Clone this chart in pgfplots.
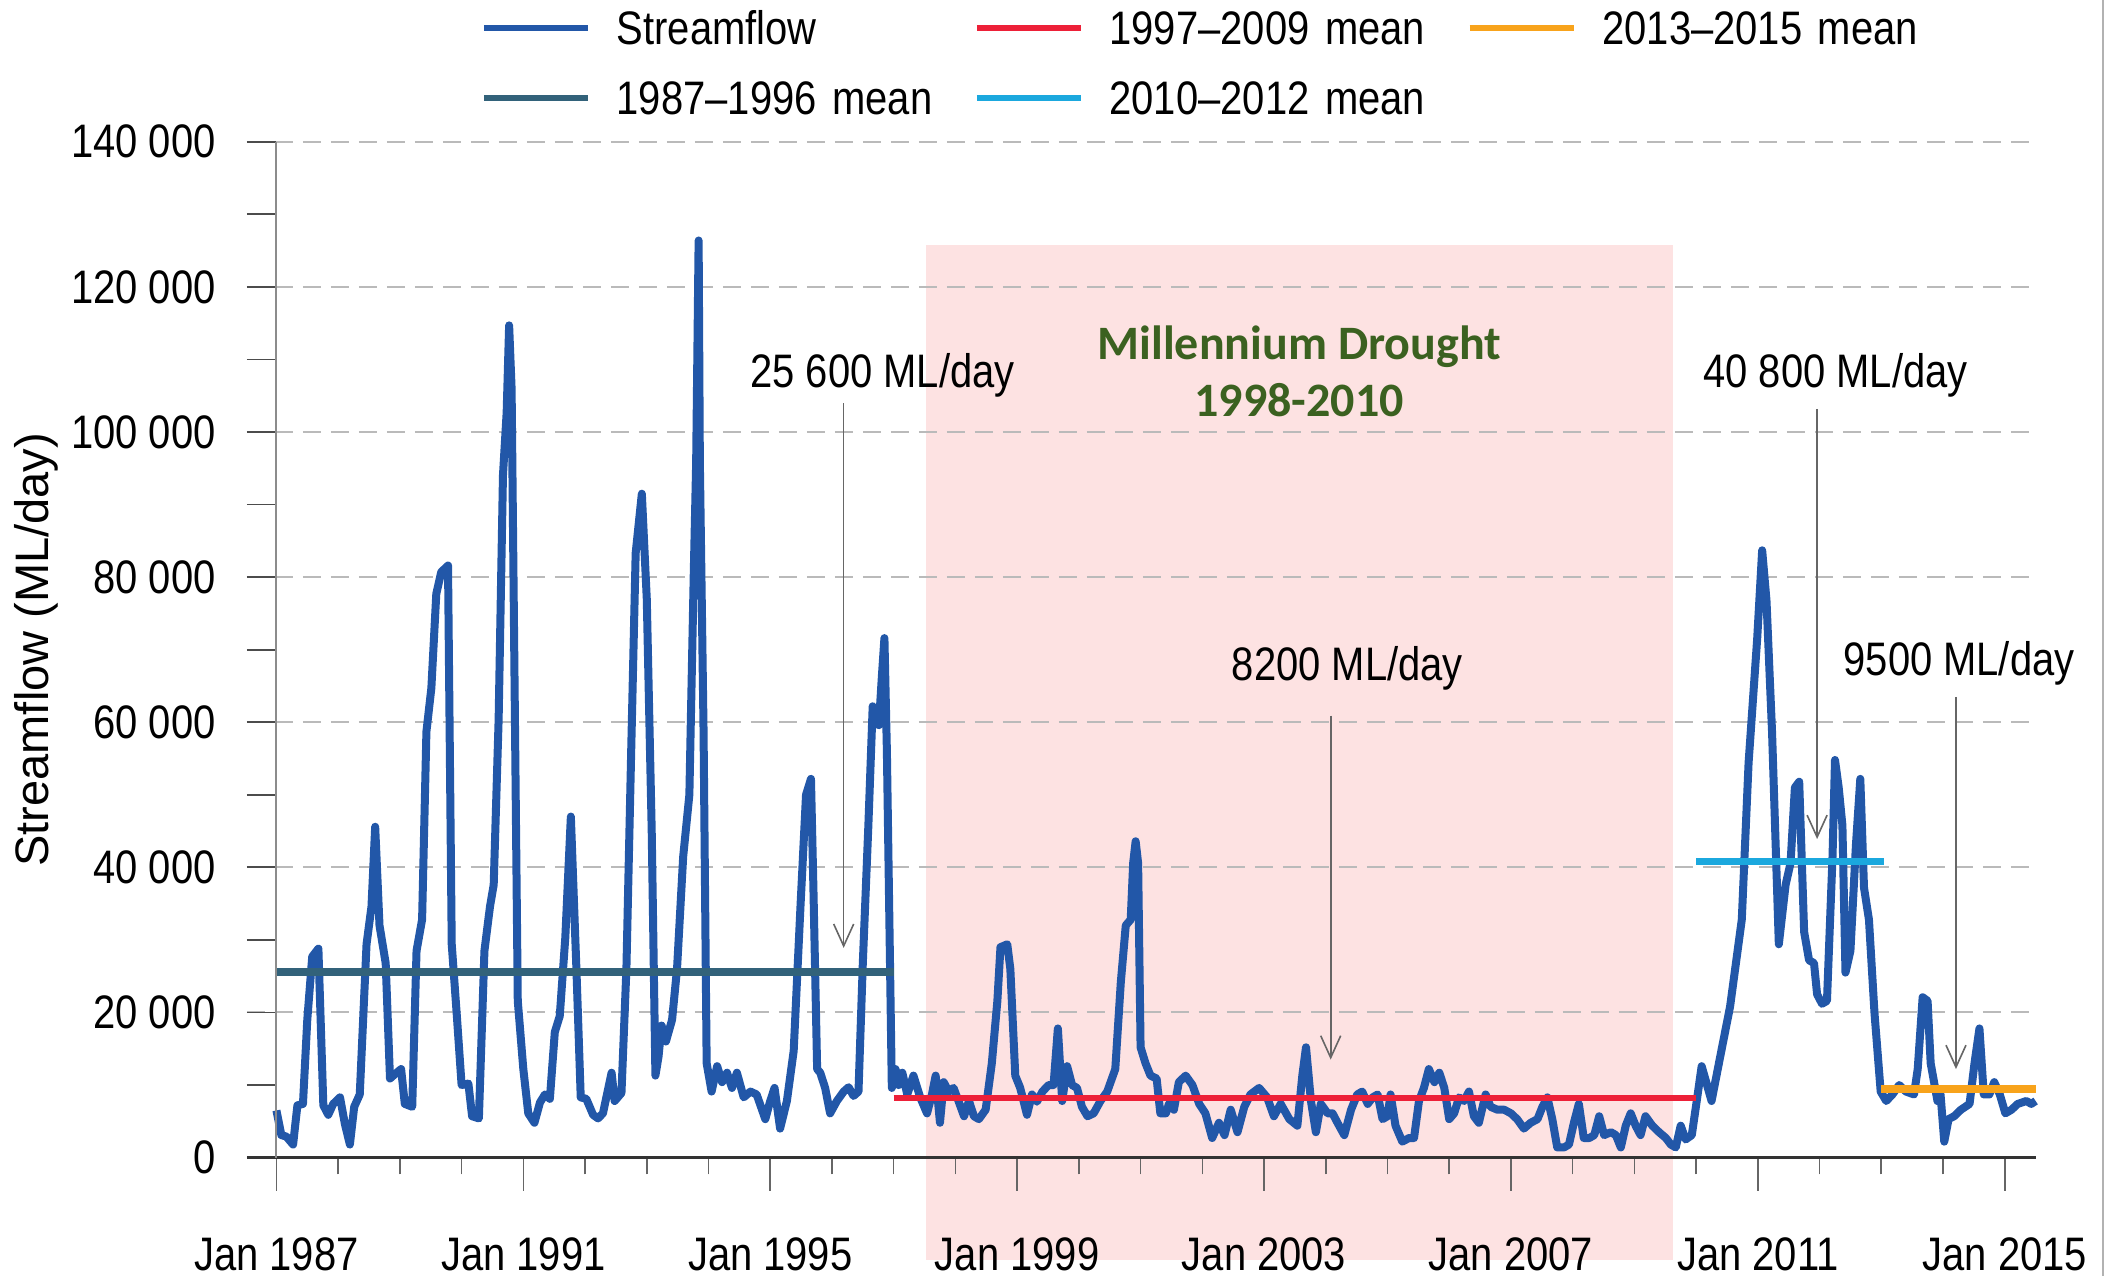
\documentclass[border=0pt]{standalone}
\usepackage{pgfplots}
\pgfplotsset{compat=1.18}
\usepackage{pgfplotstable}
\usepackage{fontspec}
\usetikzlibrary{arrows.meta}
\setmainfont{Liberation Sans}[FakeStretch=0.85]
\newfontfamily\ylabfont{Liberation Sans}
\newfontfamily\carlito{Carlito}
\definecolor{streamblue}{HTML}{2257A8}
\definecolor{tealmean}{HTML}{32627A}
\definecolor{redmean}{HTML}{ED2038}
\definecolor{cyanmean}{HTML}{1BA8DE}
\definecolor{orangemean}{HTML}{F8A31B}
\definecolor{droughtpink}{HTML}{FDE2E2}
\definecolor{droughtgreen}{HTML}{3B6120}

\pgfplotstableread{
t q
1987.00 6500
1987.08 3100
1987.16 2900
1987.27 1800
1987.34 7200
1987.43 7400
1987.50 19000
1987.58 27700
1987.68 28800
1987.76 7200
1987.84 5900
1987.92 7400
1988.03 8300
1988.11 4600
1988.19 1800
1988.26 7000
1988.35 8700
1988.46 29400
1988.54 34600
1988.60 45600
1988.67 32000
1988.77 26800
1988.84 10900
1988.92 11500
1989.02 12200
1989.08 7400
1989.20 7000
1989.27 28500
1989.36 32800
1989.43 58700
1989.51 64700
1989.59 77700
1989.67 80700
1989.78 81600
1989.84 29400
1989.92 19900
1990.00 10000
1990.11 10200
1990.17 5700
1990.28 5400
1990.37 28500
1990.46 34600
1990.52 37600
1990.60 60400
1990.67 94000
1990.73 102700
1990.77 114700
1990.81 106000
1990.91 21600
1991.00 12200
1991.08 6100
1991.18 4800
1991.27 7600
1991.35 8700
1991.43 8100
1991.51 17300
1991.59 19500
1991.68 30300
1991.77 47000
1991.86 26000
1991.93 8300
1992.02 8100
1992.13 5900
1992.21 5400
1992.29 6100
1992.43 11700
1992.48 7800
1992.59 8900
1992.67 26000
1992.75 57000
1992.82 83300
1992.92 91500
1993.00 77000
1993.08 45000
1993.14 11300
1993.19 13900
1993.24 18200
1993.31 16000
1993.41 19000
1993.49 26000
1993.59 41500
1993.69 50000
1993.76 80000
1993.80 95800
1993.84 126400
1993.86 95800
1993.92 58700
1993.97 13000
1994.05 9100
1994.14 12600
1994.22 10400
1994.30 11700
1994.38 9600
1994.46 11700
1994.57 8300
1994.68 9100
1994.78 8700
1994.92 5300
1995.00 7800
1995.07 9600
1995.16 4000
1995.27 7800
1995.38 14700
1995.49 34600
1995.58 50000
1995.66 52200
1995.70 37000
1995.76 12200
1995.81 11700
1995.89 9600
1995.97 6100
1996.08 7800
1996.19 9100
1996.27 9700
1996.35 8500
1996.43 9100
1996.50 26800
1996.59 45800
1996.66 62200
1996.70 61300
1996.76 59600
1996.81 66500
1996.85 71600
1996.89 56000
1996.97 9600
1997.03 12200
1997.08 10000
1997.14 11700
1997.22 8700
1997.32 11300
1997.43 8300
1997.54 6100
1997.62 8700
1997.68 11300
1997.75 4800
1997.81 10400
1997.89 9100
1997.97 9600
1998.05 7800
1998.14 5700
1998.22 7800
1998.30 5700
1998.38 5300
1998.49 6600
1998.59 13000
1998.68 21600
1998.73 29000
1998.84 29400
1998.89 26000
1998.97 11300
1999.05 9600
1999.16 5900
1999.24 8700
1999.32 7700
1999.41 9100
1999.51 10000
1999.59 10000
1999.66 17800
1999.73 7800
1999.81 12600
1999.89 10000
1999.97 9600
2000.05 7000
2000.14 5700
2000.24 6100
2000.35 7800
2000.46 9100
2000.59 12200
2000.68 24200
2000.76 32000
2000.84 32800
2000.88 40600
2000.92 43600
2000.96 40600
2001.00 15200
2001.08 13000
2001.16 11300
2001.26 10900
2001.32 6100
2001.41 6100
2001.46 7400
2001.54 6600
2001.62 10400
2001.73 11300
2001.84 10000
2001.95 7400
2002.05 6100
2002.16 2700
2002.27 4800
2002.36 3100
2002.46 6600
2002.57 3500
2002.68 7000
2002.78 8700
2002.92 9600
2003.05 8300
2003.16 5700
2003.27 7400
2003.41 5300
2003.54 4400
2003.62 11300
2003.68 15200
2003.76 7800
2003.84 3500
2003.92 7400
2004.03 6100
2004.11 6100
2004.19 4800
2004.30 3100
2004.41 6600
2004.51 8700
2004.59 9100
2004.68 7400
2004.76 8300
2004.84 8700
2004.92 5300
2005.00 5700
2005.05 8700
2005.13 4400
2005.24 2200
2005.35 2700
2005.43 2700
2005.51 7800
2005.59 9600
2005.67 12200
2005.76 10400
2005.84 11700
2005.92 9600
2006.00 5300
2006.08 6100
2006.16 8300
2006.24 7800
2006.32 9100
2006.40 5700
2006.48 4800
2006.59 8700
2006.67 7000
2006.78 6600
2006.89 6600
2007.00 6100
2007.10 5300
2007.21 4000
2007.32 4800
2007.43 5300
2007.51 7000
2007.59 8300
2007.67 5300
2007.75 1400
2007.86 1400
2007.94 1800
2008.02 4800
2008.10 7400
2008.18 2700
2008.27 2700
2008.35 3100
2008.43 5700
2008.51 3100
2008.62 3500
2008.70 3100
2008.78 1400
2008.86 4400
2008.94 6100
2009.02 4400
2009.10 3100
2009.18 5700
2009.29 4400
2009.40 3500
2009.51 2700
2009.59 1800
2009.67 1400
2009.75 4400
2009.83 2500
2009.93 3100
2010.01 7800
2010.09 12600
2010.25 7800
2010.39 13900
2010.55 20800
2010.74 32800
2010.85 54400
2010.99 71600
2011.07 83700
2011.14 76800
2011.23 58700
2011.34 29400
2011.45 37600
2011.53 40600
2011.60 51000
2011.67 51800
2011.75 31100
2011.83 27200
2011.91 26800
2011.96 22500
2012.04 21200
2012.12 21600
2012.21 41500
2012.25 54800
2012.31 51000
2012.37 45800
2012.42 25500
2012.50 28500
2012.59 43200
2012.66 52200
2012.72 37200
2012.80 32800
2012.89 19900
2012.99 9100
2013.08 7800
2013.18 8700
2013.29 10000
2013.40 9100
2013.53 8700
2013.59 12200
2013.67 22100
2013.75 21600
2013.80 13000
2013.91 7800
2013.96 8700
2014.02 2200
2014.09 5300
2014.18 5700
2014.29 6600
2014.43 7400
2014.51 13000
2014.59 17800
2014.66 8700
2014.75 8700
2014.83 10400
2014.92 8700
2015.01 6100
2015.11 6600
2015.21 7400
2015.35 7800
2015.43 7400
2015.50 7800
}\flowdata

\begin{document}
\begin{tikzpicture}[font=\fontsize{11.75}{14}\selectfont]
\begin{axis}[
  set layers,
  scale only axis,
  width=447.2pt, height=253.95pt,
  xmin=1986.52, xmax=2015.5,
  ymin=0, ymax=140000,
  clip=false,
  axis x line=bottom, axis y line=left,
  x axis line style={-, draw=black!80, line width=0.6pt},
  y axis line style={draw=none},
  xtick={1987,1991,1995,1999,2003,2007,2011,2015},
  xticklabels={Jan 1987,Jan 1991,Jan 1995,Jan 1999,Jan 2003,Jan 2007,Jan 2011,Jan 2015},
  minor xtick={1988,1989,1990,1992,1993,1994,1996,1997,1998,2000,2001,2002,2004,2005,2006,2008,2009,2010,2012,2013,2014},
  xtick align=outside,
  xtick style={/pgfplots/major tick length=8.3pt, /pgfplots/minor tick length=4.2pt, draw=black!60, line width=0.4pt},
  ytick={0,20000,...,140000},
  yticklabels={0,20 000,40 000,60 000,80 000,100 000,120 000,140 000},
  minor ytick={10000,30000,...,130000},
  ytick align=inside,
  ytick style={/pgfplots/major tick length=7.3pt, /pgfplots/minor tick length=7.3pt, draw=black!70, line width=0.45pt},
  ymajorgrids,
  major grid style={draw=black!27, dash pattern=on 4.5pt off 2.5pt, line width=0.5pt},
  scaled y ticks=false,
  xticklabel style={anchor=base, yshift=-23.9pt, inner sep=0pt},
  yticklabel style={anchor=east, xshift=-7.6pt, inner sep=0pt},
  ylabel={Streamflow (ML/day)},
  every axis y label/.style={at={(rel axis cs:-0.1179,0.5)}, rotate=90, anchor=center, font=\ylabfont\fontsize{11.75}{14}\selectfont},
  legend columns=3,
  legend cell align=left,
  legend image code/.code={\draw[#1, line width=1.6pt] (0pt,0pt) -- (26pt,0pt);},
  legend style={at={(rel axis cs:0.1308,1.1286)}, anchor=north west, draw=none, fill=none,
    inner sep=0pt, outer sep=0pt, row sep=9.1pt,
    nodes={inner sep=0pt, text height=8.4pt, text depth=0pt, text width=84.3pt, align=left},
    /tikz/every odd column/.append style={column sep=6.4pt},
    /tikz/every even column/.append style={column sep=4.9pt}},
]
% Millennium Drought shading
\addplot[draw=none, fill=droughtpink, on layer=axis background, forget plot]
  coordinates {(1997.52,-14100) (2009.62,-14100) (2009.62,125800) (1997.52,125800)} -- cycle;

\addplot[streamblue, line width=2pt, line join=round] table[x=t, y=q] {\flowdata};
\addlegendentry{Streamflow}
\addplot[redmean, line width=1.6pt] coordinates {(1997.0,8200) (2010.0,8200)};
\addlegendentry{1997--2009 mean}
\addplot[orangemean, line width=2pt] coordinates {(2013.0,9500) (2015.5,9500)};
\addlegendentry{2013--2015 mean}
\addplot[tealmean, line width=2pt] coordinates {(1987.0,25600) (1997.0,25600)};
\addlegendentry{1987--1996 mean}
\addplot[cyanmean, line width=1.8pt] coordinates {(2010.0,40800) (2013.05,40800)};
\addlegendentry{2010--2012 mean}

% y axis line at Jan 1987
\draw[black!45, line width=0.5pt] (axis cs:1987,0) -- (axis cs:1987,140000);

% annotations
\tikzset{ann/.style={draw=black!60, line width=0.4pt, -{Straight Barb[length=5.5pt,width=5pt]}}}
\node[anchor=base, inner sep=0pt] at (axis cs:1996.82,106100) {25 600 ML/day};
\draw[ann] (axis cs:1996.19,104000) -- (axis cs:1996.19,28900);
\node[anchor=base, inner sep=0pt] at (axis cs:2004.35,65700) {8200 ML/day};
\draw[ann] (axis cs:2004.08,60900) -- (axis cs:2004.08,13500);
\node[anchor=base, inner sep=0pt] at (axis cs:2012.26,106100) {40 800 ML/day};
\draw[ann] (axis cs:2011.96,103200) -- (axis cs:2011.96,43900);
\node[anchor=base, inner sep=0pt] at (axis cs:2014.26,66500) {9500 ML/day};
\draw[ann] (axis cs:2014.21,63500) -- (axis cs:2014.21,12200);

\node[anchor=base, inner sep=0pt, text=droughtgreen, font=\carlito\bfseries\fontsize{12}{14}\selectfont] at (axis cs:2003.57,110000) {Millennium Drought};
\node[anchor=base, inner sep=0pt, text=droughtgreen, font=\carlito\bfseries\fontsize{12}{14}\selectfont] at (axis cs:2003.57,102200) {1998-2010};
\end{axis}
\draw[black!30, line width=0.5pt] ([xshift=464pt]current axis.south west) ++(0,-29.6pt) -- ++(0,319pt);
\pgfresetboundingbox
\path[use as bounding box] (current axis.south west) ++(-61.7pt,-29.6pt) rectangle ++(528.25pt,319pt);
\end{tikzpicture}
\end{document}
